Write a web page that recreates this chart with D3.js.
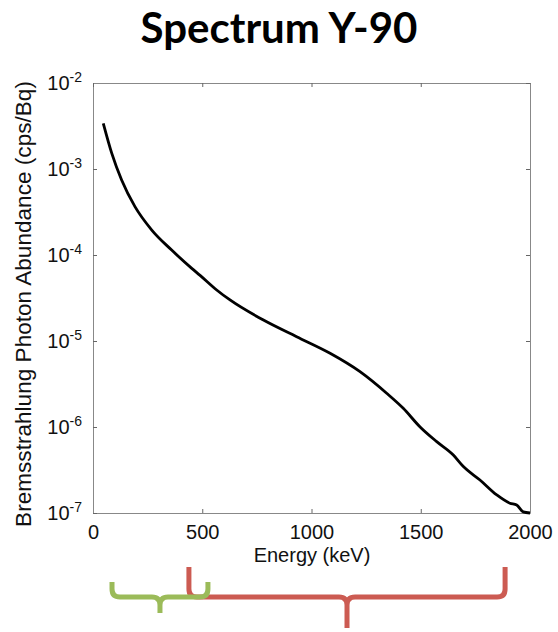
<!DOCTYPE html>
<html>
<head>
<meta charset="utf-8">
<script src="https://cdn.jsdelivr.net/npm/d3@7"></script>
<style>
  body { margin: 0; background: #fff; }
  svg { display: block; }
</style>
</head>
<body>
<div id="content"></div>
<script>
// spectrum (energy in keV, abundance in cps/Bq)
const energy = [47, 86, 131, 192, 269, 360, 452, 490, 566, 627, 780, 932, 1085, 1222, 1344, 1420, 1497, 1573, 1649, 1695, 1771, 1848, 1908, 1939, 1969, 2000];
const abundance = [3.40e-3, 1.52e-3, 7.45e-4, 3.65e-4, 1.95e-4, 1.14e-4, 7.0e-5, 5.8e-5, 3.92e-5, 3.0e-5, 1.75e-5, 1.12e-5, 7.2e-6, 4.4e-6, 2.47e-6, 1.65e-6, 1.0e-6, 6.75e-7, 4.72e-7, 3.47e-7, 2.42e-7, 1.62e-7, 1.30e-7, 1.24e-7, 1.03e-7, 1.0e-7];

const xTicks = [0, 500, 1000, 1500, 2000];
const yExponents = [-2, -3, -4, -5, -6, -7];

// energy ranges marked under the axis
const rangeStart = [439, 87];
const rangeEnd = [1886, 526];
const rangeColor = ["#cc5b52", "#9bbb59"];

const width = 558;
const height = 632;
const plotLeft = 93, plotRight = 530, plotTop = 83, plotBottom = 513;

const svg = d3.select("#content")
    .append("svg")
    .attr("width", width)
    .attr("height", height);

const xScale = d3.scaleLinear()
    .domain([0, 2000])
    .range([plotLeft, plotRight]);
const yScale = d3.scaleLog()
    .domain([1e-7, 1e-2])
    .range([plotBottom, plotTop]);

const yTickValues = yExponents.map(e => Math.pow(10, e));

// title
svg.append("text")
    .attr("x", 279)
    .attr("y", 43)
    .attr("text-anchor", "middle")
    .style("font-family", "Lato, 'Open Sans', sans-serif")
    .style("font-weight", 700)
    .style("font-size", "42px")
    .text("Spectrum Y-90");

const axisFont = "'Liberation Sans', Arial, sans-serif";

// axes
const xAxis = d3.axisBottom(xScale).tickValues(xTicks).tickFormat(d3.format("d"))
    .tickSizeInner(-4).tickSizeOuter(0).tickPadding(12);
const yAxis = d3.axisLeft(yScale).tickValues(yTickValues)
    .tickSizeInner(-4).tickSizeOuter(0).tickPadding(11);

const gx = svg.append("g")
    .attr("transform", `translate(0, ${plotBottom})`)
    .call(xAxis);
gx.selectAll(".tick text")
    .style("font-family", axisFont)
    .style("font-size", "20px")
    .attr("fill", "#111");

const gy = svg.append("g")
    .attr("transform", `translate(${plotLeft}, 0)`)
    .call(yAxis);
gy.selectAll(".tick text")
    .style("font-family", axisFont)
    .style("font-size", "20px")
    .attr("fill", "#111")
    .each(function (d) {
        const t = d3.select(this);
        t.text("10");
        t.append("tspan")
            .attr("dy", "-0.55em")
            .style("font-size", "14px")
            .text(Math.round(Math.log10(d)));
    });

svg.append("g")
    .attr("transform", `translate(0, ${plotTop})`)
    .call(d3.axisTop(xScale).tickValues(xTicks).tickSizeInner(-4).tickSizeOuter(0).tickFormat(""));
svg.append("g")
    .attr("transform", `translate(${plotRight}, 0)`)
    .call(d3.axisRight(yScale).tickValues(yTickValues).tickSizeInner(-4).tickSizeOuter(0).tickFormat(""));

svg.selectAll(".domain").attr("stroke", "#888").attr("stroke-width", 1);
svg.selectAll(".tick line").attr("stroke", "#666");

// axis titles
svg.append("text")
    .attr("x", 312)
    .attr("y", 562)
    .attr("text-anchor", "middle")
    .style("font-family", axisFont)
    .style("font-size", "20px")
    .attr("fill", "#111")
    .text("Energy (keV)");

svg.append("text")
    .attr("transform", "translate(31, 304) rotate(-90)")
    .attr("text-anchor", "middle")
    .style("font-family", axisFont)
    .style("font-size", "22.6px")
    .attr("fill", "#111")
    .text("Bremsstrahlung Photon Abundance (cps/Bq)");

// spectrum
const line = d3.line()
    .x((d, i) => xScale(energy[i]))
    .y(d => yScale(d))
    .curve(d3.curveMonotoneX);

svg.append("path")
    .datum(abundance)
    .attr("d", line)
    .attr("fill", "none")
    .attr("stroke", "#000")
    .attr("stroke-width", 2.8)
    .attr("stroke-linejoin", "round");

// braces under the axis
const braceTop = [567, 582];
const braceTip = [628, 613];
const braceY = 597;
const r = 8;

rangeStart.forEach((s, i) => {
    const x0 = xScale(s), x1 = xScale(rangeEnd[i]);
    const xm = (x0 + x1) / 2;
    const yt = braceTop[i], yb = braceTip[i];
    const p = d3.path();
    p.moveTo(x0, yt);
    p.lineTo(x0, braceY - r);
    p.quadraticCurveTo(x0, braceY, x0 + r, braceY);
    p.lineTo(xm - r, braceY);
    p.quadraticCurveTo(xm, braceY, xm, braceY + r);
    p.lineTo(xm, yb);
    p.moveTo(x1, yt);
    p.lineTo(x1, braceY - r);
    p.quadraticCurveTo(x1, braceY, x1 - r, braceY);
    p.lineTo(xm + r, braceY);
    p.quadraticCurveTo(xm, braceY, xm, braceY + r);
    svg.append("path")
        .attr("d", p.toString())
        .attr("fill", "none")
        .attr("stroke", rangeColor[i])
        .attr("stroke-width", 5);
});
</script>
</body>
</html>
